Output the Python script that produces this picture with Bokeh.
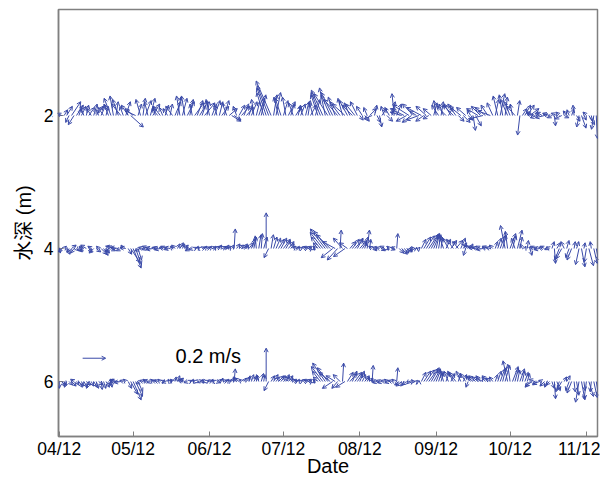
from datetime import date
import numpy as np
from bokeh.plotting import figure
from bokeh.models import (ColumnDataSource, Arrow, OpenHead, Range1d, FixedTicker, Label)
from bokeh.embed import file_html
from bokeh.resources import INLINE

# ---------------- data (velocities in cm/s, one vector per day from 04/12) ----------------
start_date = date(2000, 4, 12)
tick_labels = ["04/12", "05/12", "06/12", "07/12", "08/12", "09/12", "10/12", "11/12"]
depths = [2, 4, 6]
depth_labels = ["2", "4", "6"]
ref_speed = 20  # cm/s  (0.2 m/s)
ref_label = "0.2 m/s"

u2 = [-6, -4, 3, 5, -3, 8, -5, 6, 2, 4,
      -3, 2, 5, -4, 3, 6, -2, 4, -5, 2,
      -4, -6, -3, 2, -5, -8, -3, 4, -6, 11,
      -7, -9, 3, -4, 2, 5, -3, 4, 6, -2,
      -5, -6, -3, 3, -4, 2, -6, 5, 3, -3,
      4, -3, 6, 3, -2, 8, 5, 7, 3, 9,
      2, -3, 4, 5, -2, 3, 6, 4, -4, 7,
      8, 6, -3, 5, 7, 4, 6, 3, 5, -2,
      3, 5, 4, -6, -8, -10, -13, 3, 4, -4,
      -5, 4, -3, 6, 3, -4, 5, 2, 4, -3,
      3, 2, 5, -3, 4, -6, -8, -10, -5, -12,
      -8, -10, -6, -12, -9, -4, -11, -7, -5, -9,
      -8, -6, 3, -5, 4, -3, 6, -7, 2, 3,
      2, 4, -3, 5, -4, 3, -2, 4, -6, -10,
      -12, -9, -14, -8, -10, -6, -11, -13, -7, -9,
      -5, -7, 3, -2, -6, 2, -4, -8, 4, -6,
      -9, -7, 5, -10, 6, -8, 4, -3, 2, 5,
      -10, -8, -12, -9, -6, -11, -5, 3, -4, 4,
      -3, 2, -6, -5, -2, -7, 2, -2, 4, 5,
      6, 8, -5, -7, -6, -4, -5, -8, -3, -6,
      -4, 1, -5, -3, -6, 4, -3, -2, 2, -1,
      3, -2, 4, 2, -3, 5, 1, -2, 1]
v2 = [-1, 2, 5, 8, -6, 12, -8, 9, 6, 8,
      8, 9, 7, 6, 10, 8, 5, 9, 7, 8,
      10, 15, 17, 12, 14, 10, 8, 12, 9, -10,
      6, 4, 10, 14, 15, 13, 12, 15, 10, 8,
      6, 8, 7, 9, 6, 10, 8, 12, 16, 17,
      15, 17, 12, 14, 10, 11, 13, 12, 9, 11,
      12, 14, 10, 13, 9, 12, 8, 13, 11, 6,
      -5, -4, 8, 9, 8, 10, 7, 9, 12, 14,
      12, 15, 18, 20, 24, 26, 30, 18, 20, 16,
      15, 13, 16, 12, 10, 11, 8, 9, 10, 7,
      12, 13, 9, 11, 14, 18, 20, 22, 24, 19,
      18, 20, 16, 14, 12, 15, 10, 13, 11, 9,
      10, 12, -4, 8, -5, 7, 6, -3, 9, -6,
      -10, 6, 8, -5, 7, 12, 19, 10, 6, 3,
      6, -5, 9, -6, 10, 4, -4, 7, -5, 8,
      -3, 6, 11, 13, 9, 12, 10, 8, 7, 10,
      9, 10, -5, 8, -6, 7, -4, 5, -13, -9,
      6, 8, -3, 7, 9, 4, 11, 14, 17, 19,
      18, 16, 14, 12, 10, 8, 13, -17, 6, 9,
      9, 6, 2, 3, -2, 2, 3, -2, 1, 2,
      -2, -9, 2, 3, -3, -2, 4, 5, 6, 9,
      -5, -10, -11, -4, 3, -8, -5, -12, -20]

u4 = [1, -3, 2, 3, -2, 4, -3, 2, 3, -2,
      -4, -5, 3, -3, -4, 4, -2, 5, 4, 3,
      -3, 4, -5, -9, -7, -4, -2, -5, 3, 8,
      7, 5, 3, -5, -4, -3, -5, -4, -6, -3,
      -4, -5, -3, -4, -3, -5, -2, -3, 2, 3,
      2, 3, -1, -4, -3, 2, 1, -2, 3, 2,
      3, 2, 4, 1, 3, 2, 4, 3, 2, 1,
      2, 1, 3, 4, 5, 3, 2, 4, 3, 2,
      -1, 2, 1, 3, 0, -4, 2, 3, 4, 5,
      5, 6, 4, 5, 3, 2, 3, 1, 2, 3,
      2, 3, 1, 2, -2, -4, -8, -11, -13, -12,
      -12, -10, -11, -9, 1, -8, -10, -7, 5, 6,
      7, 5, 6, 4, 3, 2, 1, -3, 2, -4,
      -3, 3, -4, 2, -2, 3, -3, 1, 4, 5,
      4, 5, 3, 1, 1, 0, 1, 4, 6, 7,
      8, 7, 5, 3, 2, 1, -3, 4, -5, 5,
      -6, 6, -5, 4, 3, -2, -4, 2, -5, -6,
      -5, -4, -6, -3, -5, -4, -3, 2, 3, 4,
      3, -4, -2, 5, 3, -3, 4, 2, -2, 1,
      1, 2, -3, -4, -3, -5, -3, -4, -2, -3,
      2, 1, 3, -4, -5, -3, 2, -3, -4, 1,
      2, -3, 3, 1, -2, 4, -1, 3, 2]
v4 = [-4, -3, 2, -5, -3, 3, -4, -2, -3, 2,
      -2, 3, -3, 2, -4, -3, 2, -5, -6, -4,
      -3, -2, 2, 2, 1, -2, 3, 1, -5, -12,
      -17, -14, -10, -2, 1, -1, 2, 1, -1, 1,
      1, -1, 1, 2, -1, 1, 2, 3, 4, 5,
      4, 3, 2, -2, -1, 1, 2, 1, 1, 2,
      1, 2, 1, 2, 2, 3, 1, 2, 3, 2,
      3, 17, 4, 3, 2, 4, 3, 5, 8, 10,
      11, 12, 13, 10, 31, -8, 12, 10, 9, 8,
      9, 8, 7, 6, 4, 2, 1, 2, 1, 2,
      1, 2, 1, -1, 2, 5, 10, 14, 17, 15,
      12, -8, 6, -10, 16, 9, -7, 5, 6, 8,
      8, 9, 7, 6, 10, 16, 8, 2, -2, 1,
      1, -2, 2, -1, 2, -1, 1, 13, -4, -5,
      -4, -3, -2, 1, 0, 1, 1, 8, 10, 11,
      12, 13, 12, 13, 12, 10, 9, 8, 9, 7,
      8, 7, 6, 9, 5, -6, 3, 4, 2, 1,
      1, 2, -1, 1, 2, 1, 3, 6, 9, 11,
      12, 20, 15, 13, 11, 9, 16, 10, 4, 2,
      7, -6, 1, 2, 1, -1, 1, 2, -1, 1,
      6, -13, 5, -10, -9, 6, 7, -8, -10, 6,
      6, -14, -16, 5, -12, -15, 6, -13, -10]

u6 = [0, 3, 2, -2, 3, 4, -3, 2, 3, 2,
      3, 4, -2, 2, 3, 2, 4, 1, 2, 3,
      2, 1, -3, -5, -8, -6, -3, -2, 3, 6,
      7, 6, 4, -4, -3, -2, -4, -3, -2, -3,
      -3, -2, 2, -3, 1, 2, -2, 1, 2, 3,
      -4, -5, -3, 2, 1, -2, 2, 3, 1, -2,
      2, 3, 1, -2, 3, 2, 1, 3, 2, 2,
      2, 1, -3, -4, -2, 2, 3, 1, 2, 3,
      1, -2, 2, 1, 0, -4, 3, 4, 3, 5,
      4, 5, 3, 4, 2, 3, 2, 1, 2, 3,
      2, 3, 1, 2, -2, -4, -7, -10, -11, -9,
      -10, -9, -8, -5, -6, 1, -8, 5, 6, 4,
      6, 5, 4, 3, 4, 2, 3, 1, -3, -4,
      -3, -4, -3, -2, -4, -3, -2, 1, -4, -5,
      -3, -4, -2, 1, 1, 1, 0, 4, 6, 7,
      8, 7, 6, 4, 3, 2, -2, 3, -4, 3,
      -5, -6, 2, -4, 3, -5, -2, -4, -5, -6,
      -5, -4, -6, -3, -5, -4, -3, 2, 3, 4,
      3, 4, -4, -2, 5, 3, 2, 4, 2, 3,
      2, -4, -6, -5, -4, -6, -3, -4, -2, -3,
      2, 1, 3, -3, -4, 2, 3, -3, -4, 1,
      2, -3, 3, 1, -2, 4, -1, 3, 2]
v6 = [-6, -4, -3, -5, -3, -4, 2, -3, -5, -4,
      -5, -3, -6, -4, -5, -6, -3, -7, -6, -5,
      -3, -5, 2, 1, 1, -1, 1, 2, -6, -11,
      -16, -13, -9, -2, 1, 2, 1, -1, 2, 1,
      1, 2, 1, -1, 2, 1, 2, 4, 5, 3,
      1, 2, -1, 1, 2, 1, -1, 1, 2, -1,
      1, 1, 2, 1, -1, 2, 3, 1, 2, 1,
      3, 11, 4, 3, 2, 3, 4, 5, 6, 5,
      5, 6, 7, 6, 29, -8, 5, 6, 4, 5,
      5, 4, 6, 5, 3, 2, 1, 2, 1, 2,
      1, 2, 1, -1, 2, 4, 9, 13, 16, 12,
      8, -6, 5, -6, 6, 16, -5, 8, 7, 9,
      8, 7, 9, 6, 5, 4, 3, 14, 1, -1,
      1, -1, 1, 2, -1, 1, 2, 12, -3, -4,
      -4, -3, -2, 1, 0, 1, 1, 8, 9, 10,
      11, 12, 11, 10, 9, 8, 7, 8, 9, 7,
      9, 8, 7, 9, 6, 7, -5, 5, 4, 5,
      4, 5, 3, 4, 5, 3, 4, 6, 9, 11,
      12, 14, 18, 15, 13, 11, 10, 11, 9, 8,
      7, -5, -4, 2, -3, -2, 1, -4, -5, -3,
      -6, -15, -8, -9, -7, 4, 5, -8, -10, -9,
      -12, -18, -16, -8, -15, -13, -9, -14, -12]

# ---------------- layout / scaling (styles) ----------------
FRAME_W, FRAME_H = 539, 427
X0, X1 = -0.3, 218.5
Y_TOP, Y_BOT = 0.406, 6.827
px_day = FRAME_W / (X1 - X0)
px_m = FRAME_H / (Y_BOT - Y_TOP)
PX_PER_CM = 1.15
color = "#3a4aa8"
font = "Liberation Sans, Noto Sans CJK SC, Arial, sans-serif"

series = [(depths[0], u2, v2), (depths[1], u4, v4), (depths[2], u6, v6)]
x0s, y0s, x1s, y1s = [], [], [], []
for d, uu, vv in series:
    uu = np.asarray(uu, float)
    vv = np.asarray(vv, float)
    t = np.arange(len(uu), dtype=float)
    x0s += list(t)
    y0s += [d] * len(t)
    x1s += list(t + uu * PX_PER_CM / px_day)
    y1s += list(d - vv * PX_PER_CM / px_m)

src = ColumnDataSource(dict(x0=x0s, y0=y0s, x1=x1s, y1=y1s))

p = figure(frame_width=FRAME_W, frame_height=FRAME_H, output_backend="svg",
           toolbar_location=None, x_range=Range1d(X0, X1),
           y_range=Range1d(Y_BOT, Y_TOP),
           min_border_top=9, min_border_right=3, min_border_left=58,
           min_border_bottom=0)
p.background_fill_color = "white"
p.border_fill_color = "white"
p.grid.visible = False
p.outline_line_color = "#808080"
p.outline_line_width = 1.5

p.add_layout(Arrow(end=OpenHead(size=4, line_color=color, line_width=1),
                   x_start="x0", y_start="y0", x_end="x1", y_end="y1",
                   line_color=color, line_width=1, source=src))

# reference arrow
ref_t, ref_y = 9.5, 5.65
ref_src = ColumnDataSource(dict(x0=[ref_t], y0=[ref_y],
                                x1=[ref_t + ref_speed * PX_PER_CM / px_day], y1=[ref_y]))
p.add_layout(Arrow(end=OpenHead(size=4, line_color=color, line_width=1),
                   x_start="x0", y_start="y0", x_end="x1", y_end="y1",
                   line_color=color, line_width=1, source=ref_src))
p.add_layout(Label(x=47.2, y=5.61, text=ref_label, text_font=font,
                   text_font_size="20px", text_color="black",
                   text_baseline="middle", text_align="left"))

# axes
tick_days = [(date(2000, int(s[:2]), int(s[3:])) - start_date).days for s in tick_labels]
p.xaxis.ticker = FixedTicker(ticks=tick_days)
p.xaxis.major_label_overrides = {d: s for d, s in zip(tick_days, tick_labels)}
p.yaxis.ticker = FixedTicker(ticks=depths)
p.yaxis.major_label_overrides = {d: s for d, s in zip(depths, depth_labels)}
p.xaxis.axis_label = "Date"
p.yaxis.axis_label = "水深 (m)"

for ax in (p.xaxis, p.yaxis):
    ax.axis_line_color = "#808080"
    ax.axis_line_width = 1.5
    ax.major_tick_line_color = "#808080"
    ax.major_tick_in = 5
    ax.major_tick_out = 0
    ax.minor_tick_line_color = None
    ax.major_label_text_font = font
    ax.major_label_text_font_size = "17.5px"
    ax.major_label_text_color = "black"
    ax.axis_label_text_font = font
    ax.axis_label_text_font_size = "20px"
    ax.axis_label_text_font_style = "normal"
    ax.axis_label_text_color = "black"

p.xaxis.major_label_standoff = 2
p.xaxis.axis_label_standoff = -7
p.yaxis.major_label_standoff = 5
p.yaxis.axis_label_standoff = 6

open("out.html", "w").write(file_html(p, INLINE))
